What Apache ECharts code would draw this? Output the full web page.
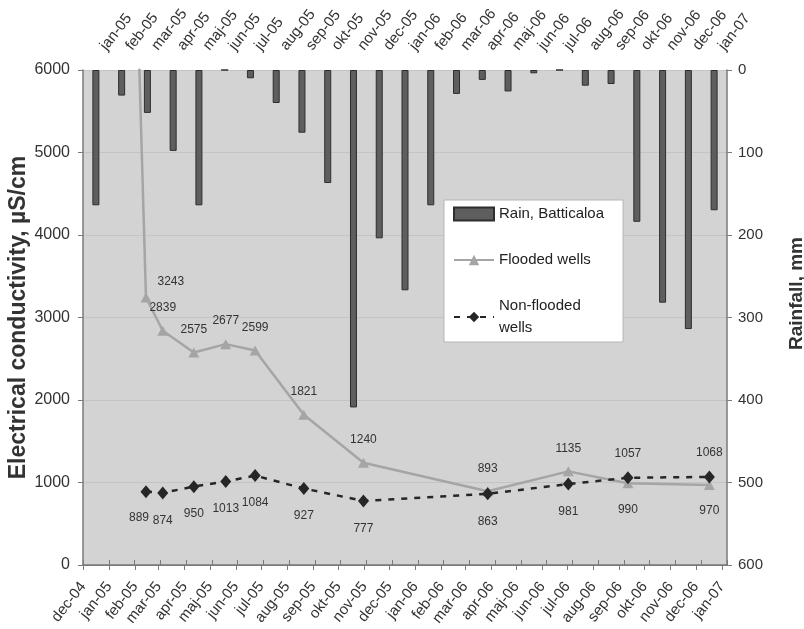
<!DOCTYPE html>
<html>
<head>
<meta charset="utf-8">
<script src="https://cdn.jsdelivr.net/npm/echarts@6/dist/echarts.min.js"></script>
<style>
  html, body { margin: 0; padding: 0; background: #ffffff; }
  #chart { width: 804px; height: 629px; }
</style>
</head>
<body>
<div id="chart"></div>
<script>
// Monthly rainfall at Batticaloa (mm), one bar per month on the top axis
const rainMonths = ['jan-05', 'feb-05', 'mar-05', 'apr-05', 'maj-05', 'jun-05', 'jul-05', 'aug-05', 'sep-05', 'okt-05', 'nov-05', 'dec-05',
                    'jan-06', 'feb-06', 'mar-06', 'apr-06', 'maj-06', 'jun-06', 'jul-06', 'aug-06', 'sep-06', 'okt-06', 'nov-06', 'dec-06', 'jan-07'];
const rainMm = [164, 31, 52, 98, 164, 0, 10, 40, 76, 137, 409, 204,
                267, 164, 29, 12, 26, 4, 0, 19, 17, 184, 282, 314, 170];

// Month labels on the sampling-date axis
const dateTicks = ['dec-04', 'jan-05', 'feb-05', 'mar-05', 'apr-05', 'maj-05', 'jun-05', 'jul-05', 'aug-05', 'sep-05', 'okt-05', 'nov-05', 'dec-05',
                   'jan-06', 'feb-06', 'mar-06', 'apr-06', 'maj-06', 'jun-06', 'jul-06', 'aug-06', 'sep-06', 'okt-06', 'nov-06', 'dec-06', 'jan-07'];
const dateAxisEnd = '2007-01-07';

// Electrical conductivity (µS/cm) in wells, by sampling date
const floodedDates = ['2005-01-27', '2005-02-14', '2005-03-06', '2005-04-12', '2005-05-20', '2005-06-24', '2005-08-21', '2005-10-31',
                      '2006-03-28', '2006-07-02', '2006-09-11', '2006-12-17'];
const floodedEC = [9580, 3243, 2839, 2575, 2677, 2599, 1821, 1240, 893, 1135, 990, 970];

const nonFloodedDates = ['2005-02-14', '2005-03-06', '2005-04-12', '2005-05-20', '2005-06-24', '2005-08-21', '2005-10-31',
                         '2006-03-28', '2006-07-02', '2006-09-11', '2006-12-17'];
const nonFloodedEC = [889, 874, 950, 1013, 1084, 927, 777, 863, 981, 1057, 1068];

// ---- helpers ----
const MONTHS = ['jan', 'feb', 'mar', 'apr', 'maj', 'jun', 'jul', 'aug', 'sep', 'okt', 'nov', 'dec'];
const monthLabelToTs = (s) => {
  const [m, y] = s.split('-');
  return Date.UTC(2000 + Number(y), MONTHS.indexOf(m), 1);
};
const isoToTs = (s) => {
  const [y, m, d] = s.split('-').map(Number);
  return Date.UTC(y, m - 1, d);
};

const tickValues = dateTicks.map(monthLabelToTs);
const tickText = new Map(tickValues.map((t, i) => [t, dateTicks[i]]));

// EC at a given date for the other series, to decide which label goes on top
const ecAt = (dates, values, d) => {
  const i = dates.indexOf(d);
  return i < 0 ? null : values[i];
};

const FONT = '"Liberation Sans", Arial, sans-serif';
const TEXT = '#333333';
const AXIS = '#7a7a7a';

const labelBase = { show: true, fontSize: 12, color: TEXT, fontFamily: FONT, distance: 12 };
const labelAbove = { position: 'top', distance: 12 };
const labelBelow = { position: 'bottom', distance: 15 };

const floodedData = floodedDates.map((d, i) => {
  const v = floodedEC[i];
  const other = ecAt(nonFloodedDates, nonFloodedEC, d);
  const item = { value: [isoToTs(d), v] };
  if (v > 6000) {
    item.label = { show: false };
  } else if (other !== null && v < other) {
    item.label = labelBelow;
  } else if (i === 1) {
    // first visible sample sits on the steep drop: put its value beside it
    item.label = { position: 'right', offset: [0, -16], distance: 6 };
  } else {
    item.label = labelAbove;
  }
  return item;
});

const nonFloodedData = nonFloodedDates.map((d, i) => {
  const v = nonFloodedEC[i];
  const other = ecAt(floodedDates, floodedEC, d);
  const above = other !== null && v > other;
  const label = above ? { ...labelAbove } : { ...labelBelow };
  // the first two samples are close together; nudge the first value left
  if (i === 0) label.offset = [-7, -1];
  return { value: [isoToTs(d), v], label };
});

const chart = echarts.init(document.getElementById('chart'), null, { renderer: 'canvas' });

chart.setOption({
  backgroundColor: '#ffffff',
  animation: false,
  textStyle: { fontFamily: FONT, color: TEXT },
  grid: {
    left: 83, right: 77, top: 70, bottom: 64,
    show: true, backgroundColor: '#d3d3d3', borderWidth: 0,
    containLabel: false, outerBoundsMode: 'none'
  },
  legend: {
    orient: 'vertical',
    left: 444, top: 200,
    padding: [3, 19, 3, 9],
    itemGap: 24,
    itemWidth: 40, itemHeight: 13,
    backgroundColor: '#ffffff',
    borderColor: '#b5b5b5', borderWidth: 1,
    textStyle: { fontSize: 15, color: '#222222', fontFamily: FONT, lineHeight: 22 },
    formatter: (n) => n.startsWith('Non-') ? n.replace(' ', '\n') : n,
    data: [
      { name: 'Rain, Batticaloa', icon: 'rect' },
      { name: 'Flooded wells' },
      { name: 'Non-flooded wells' }
    ]
  },
  xAxis: [
    {
      // sampling dates as UTC timestamps on a linear scale, ticked at month starts
      type: 'value',
      position: 'bottom',
      min: tickValues[0],
      max: isoToTs(dateAxisEnd),
      axisLine: { show: true, onZero: false, lineStyle: { color: AXIS, width: 1.5 } },
      axisTick: { show: true, length: 5, customValues: tickValues, lineStyle: { color: AXIS } },
      axisLabel: {
        customValues: tickValues,
        formatter: (v) => tickText.get(v) || '',
        rotate: 52, fontSize: 15, color: TEXT, margin: 19
      },
      splitLine: { show: false }
    },
    {
      type: 'category',
      position: 'top',
      data: rainMonths,
      boundaryGap: true,
      axisLine: { show: true, lineStyle: { color: AXIS, width: 1 } },
      axisTick: { show: true, length: 5, interval: 0, alignWithLabel: false, lineStyle: { color: AXIS } },
      axisLabel: { interval: 0, rotate: 52, fontSize: 15, color: TEXT, margin: 12, padding: [0, 0, 0, 12] },
      splitLine: { show: false }
    }
  ],
  yAxis: [
    {
      type: 'value',
      position: 'left',
      min: 0, max: 6000, interval: 1000,
      name: 'Electrical conductivity, µS/cm',
      nameLocation: 'middle', nameGap: 53, nameRotate: 90, nameMoveOverlap: false,
      nameTextStyle: { fontSize: 23, fontWeight: 'bold', color: TEXT, fontFamily: FONT },
      axisLine: { show: true, lineStyle: { color: AXIS, width: 1.5 } },
      axisTick: { show: true, length: 5, lineStyle: { color: AXIS } },
      axisLabel: { fontSize: 16, color: TEXT, margin: 13, formatter: (v) => String(v) },
      splitLine: { show: true, lineStyle: { color: '#c4c4c4', width: 1 } }
    },
    {
      type: 'value',
      position: 'right',
      min: 0, max: 600, interval: 100,
      inverse: true,
      name: 'Rainfall, mm',
      nameLocation: 'middle', nameGap: 60, nameRotate: 90, nameMoveOverlap: false,
      nameTextStyle: { fontSize: 19, fontWeight: 'bold', color: TEXT, fontFamily: FONT, padding: [0, 0, 0, 48] },
      axisLine: { show: true, lineStyle: { color: AXIS, width: 1.5 } },
      axisTick: { show: true, length: 5, lineStyle: { color: AXIS } },
      axisLabel: { fontSize: 15, color: TEXT, margin: 11 },
      splitLine: { show: false }
    }
  ],
  series: [
    {
      name: 'Rain, Batticaloa',
      type: 'bar',
      xAxisIndex: 1, yAxisIndex: 1,
      data: rainMm,
      barWidth: 7,
      itemStyle: { color: '#5e5e5e', borderColor: '#2e2e2e', borderWidth: 1 },
      z: 2
    },
    {
      name: 'Flooded wells',
      type: 'line',
      xAxisIndex: 0, yAxisIndex: 0,
      data: floodedData,
      clip: true,
      symbol: 'triangle', symbolSize: [11, 10],
      lineStyle: { color: '#a5a5a5', width: 2.5 },
      itemStyle: { color: '#a5a5a5' },
      label: labelBase,
      z: 3
    },
    {
      name: 'Non-flooded wells',
      type: 'line',
      xAxisIndex: 0, yAxisIndex: 0,
      data: nonFloodedData,
      clip: true,
      symbol: 'diamond', symbolSize: [11, 13],
      lineStyle: { color: '#262626', width: 2.5, type: [6, 7] },
      itemStyle: { color: '#262626' },
      label: labelBase,
      z: 4
    }
  ]
});
</script>
</body>
</html>
